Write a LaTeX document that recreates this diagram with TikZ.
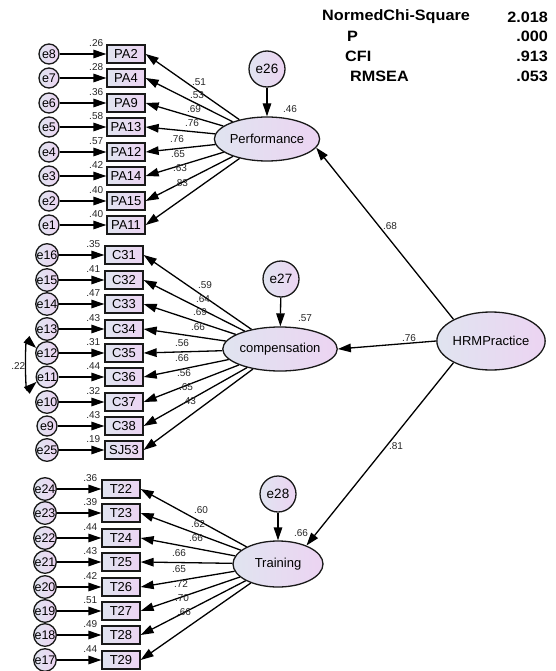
\documentclass[tikz,border=0pt]{standalone}
\usepackage{fontspec}
\setmainfont{Liberation Sans}
\usetikzlibrary{arrows.meta,shapes.geometric}
\definecolor{fillA}{RGB}{224,228,240}
\definecolor{fillB}{RGB}{236,212,242}
\tikzset{
  shade/.style={left color=fillA, right color=fillB, draw=black!90, line width=1.3pt},
  obs/.style={shade, rectangle, minimum width=38pt, minimum height=18pt, inner sep=0pt, font=\fontsize{13}{13}\selectfont},
  err/.style={shade, circle, minimum size=20pt, inner sep=0pt, font=\fontsize{12.5}{12.5}\selectfont},
  res/.style={shade, circle, minimum size=36pt, inner sep=0pt, font=\fontsize{13.5}{13.5}\selectfont},
  lat/.style={shade, ellipse, inner sep=0pt, font=\fontsize{13}{13}\selectfont},
  num/.style={inner sep=0pt, text=black!85, font=\fontsize{10}{10}\selectfont},
  tip/.tip={Triangle[length=13pt,width=8.5pt]},
  arr/.style={-tip, line width=1.3pt},
  stat/.style={inner sep=0pt, font=\bfseries\fontsize{15}{15}\selectfont}
}
\begin{document}
\begin{tikzpicture}[x=1pt,y=-1pt]
\useasboundingbox (0,0) rectangle (556,671);

% latent factors and their residuals
\node[lat, minimum width=88pt, minimum height=44pt] (perf) at (267,139) {Performance};
\node[lat, minimum width=88pt, minimum height=44pt] (comp) at (280,349) {compensation};
\node[lat, minimum width=90pt, minimum height=46pt] (train) at (278,564) {Training};
\node[lat, minimum width=104pt, minimum height=58pt] (hrm) at (491,341) {HRMPractice};

\node[res] (e26) at (267,69) {e26};
\node[res] (e27) at (281,279) {e27};
\node[res] (e28) at (278,494) {e28};
\draw[arr] (e26) -- (perf);
\draw[arr] (e27) -- (comp);
\draw[arr] (e28) -- (train);
\node[num] (r26) at (290,109) {.46};
\node[num] (r27) at (305,318) {.57};
\node[num] (r28) at (301,533) {.66};

% second-order paths
\draw[arr] (hrm.150) -- (perf.-10);
\draw[arr] (hrm.west) -- (comp.east);
\draw[arr] (hrm.210) -- (train.33);
\node[num] (p68) at (390,226) {.68};
\node[num] (p76) at (409,338) {.76};
\node[num] (p81) at (396,446) {.81};

% Performance indicators
\foreach \e/\b/\y/\r/\l/\lx/\ly in {
  e8/PA2/54/.26/.51/199/82, e7/PA4/78/.28/.53/197/95,
  e6/PA9/103/.36/.69/194/109, e5/PA13/127/.58/.76/192/123,
  e4/PA12/152/.57/.76/177/139, e3/PA14/176/.42/.65/178/154,
  e2/PA15/201/.40/.63/180/168, e1/PA11/225/.40/.83/181/183}{
  \node[obs] (\b) at (126,\y) {\b};
  \node[err] (\e) at (49,\y) {\e};
  \draw[arr] (\e) -- (\b);
  \node[num, anchor=south east] (r\b) at ([xshift=-3pt,yshift=-2pt]\b.north west) {\r};
  \draw[arr] (perf) -- (\b.east);
  \node[num] (l\b) at (\lx,\ly) {\l};
}

% compensation indicators
\foreach \e/\b/\y/\r/\l/\lx/\ly in {
  e16/C31/255/.35/.59/205/285, e15/C32/280/.41/.64/203/299,
  e14/C33/304/.47/.69/200/312, e13/C34/329/.43/.66/198/327,
  e12/C35/353/.31/.56/182/343, e11/C36/377/.44/.66/182/358,
  e10/C37/402/.32/.56/184/373, e9/C38/426/.43/.65/186/387,
  e25/SJ53/450/.19/.43/189/401}{
  \node[obs] (\b) at (124,\y) {\b};
  \node[err] (\e) at (47,\y) {\e};
  \draw[arr] (\e) -- (\b);
  \node[num, anchor=south east] (r\b) at ([xshift=-4pt,yshift=-2pt]\b.north west) {\r};
  \draw[arr] (comp) -- (\b.east);
  \node[num] (l\b) at (\lx,\ly) {\l};
}

% error covariance
\draw[tip-tip, line width=1.3pt]
  (e12.155) .. controls (25,338) and (25,392) .. (e11.205);
\node[num, anchor=east] (c22) at (25.5,366) {.22};

% Training indicators
\foreach \e/\b/\y/\r/\l/\lx/\ly in {
  e24/T22/489/.36/.60/201/510, e23/T23/513/.39/.62/198/524,
  e22/T24/538/.44/.66/196/538, e21/T25/562/.43/.66/179/553,
  e20/T26/587/.42/.65/179/569, e19/T27/611/.51/.72/181/584,
  e18/T28/635/.49/.70/182/598, e17/T29/660/.44/.66/184/612}{
  \node[obs] (\b) at (121,\y) {\b};
  \node[err] (\e) at (45,\y) {\e};
  \draw[arr] (\e) -- (\b);
  \node[num, anchor=south east] (r\b) at ([xshift=-4pt,yshift=-2pt]\b.north west) {\r};
  \draw[arr] (train) -- (\b.east);
  \node[num] (l\b) at (\lx,\ly) {\l};
}

% fit statistics
\node[stat, anchor=west] (k1) at (322,17) {\scalebox{1.08}[1]{NormedChi-Square}};
\node[stat, anchor=west] (k2) at (347,36) {\scalebox{1.08}[1]{P}};
\node[stat, anchor=west] (k3) at (345,56) {\scalebox{1.08}[1]{CFI}};
\node[stat, anchor=west] (k4) at (350,76) {\scalebox{1.08}[1]{RMSEA}};
\node[stat, anchor=east] (v1) at (548,17) {\scalebox{1.08}[1]{2.018}};
\node[stat, anchor=east] (v2) at (548,36) {\scalebox{1.08}[1]{.000}};
\node[stat, anchor=east] (v3) at (548,56) {\scalebox{1.08}[1]{.913}};
\node[stat, anchor=east] (v4) at (548,76) {\scalebox{1.08}[1]{.053}};
\end{tikzpicture}
\end{document}
